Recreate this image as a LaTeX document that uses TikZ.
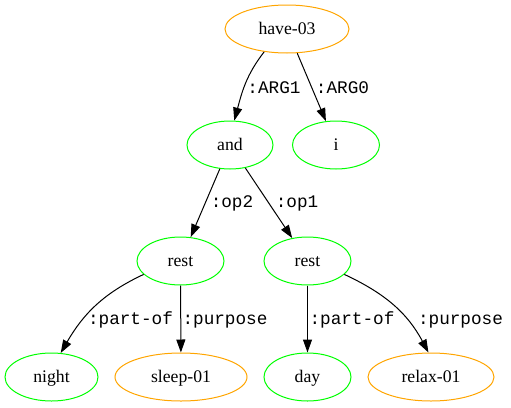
\documentclass[tikz,border=0pt]{standalone}
\usepackage{fontspec}
\setmainfont{Liberation Serif}
\newfontfamily\edgefont{Liberation Mono}
\usetikzlibrary{arrows.meta,shapes.geometric}
\definecolor{gvorange}{HTML}{FFA500}
\definecolor{gvgreen}{HTML}{00FF00}
\tikzset{
  amrnode/.style={ellipse, draw, line width=1pt, inner sep=0pt, minimum height=48pt,
    text height=12pt, text depth=2pt, font=\fontsize{17.7}{20}\selectfont},
  concept/.style={amrnode, draw=gvorange},
  entity/.style={amrnode, draw=gvgreen},
  rel/.style={line width=1pt, -{Triangle[length=13pt,width=9pt]}},
  lbl/.style={anchor=base, inner sep=0pt, font=\edgefont\fontsize{17.7}{20}\selectfont}
}
\begin{document}
\begin{tikzpicture}[x=1pt,y=1pt]
\useasboundingbox (0,0) rectangle (511,-407);
\node[concept, minimum width=124pt] (have) at (287,-29) {have-03};
\node[entity, minimum width=86pt] (and) at (230,-145) {and};
\node[entity, minimum width=87pt] (i) at (336,-145) {i};
\node[entity, minimum width=87pt] (restL) at (180.5,-261) {rest};
\node[entity, minimum width=87pt] (restR) at (307.5,-261) {rest};
\node[entity, minimum width=93pt] (night) at (51.5,-377) {night};
\node[concept, minimum width=132pt] (sleep) at (181,-377) {sleep-01};
\node[entity, minimum width=87pt] (day) at (307.5,-377) {day};
\node[concept, minimum width=126pt] (relax) at (431,-377) {relax-01};

\draw[rel] (have.225) to[out=232, in=75] (and.80);
\draw[rel] (have) -- (i);
\draw[rel] (and) -- (restL);
\draw[rel] (and) -- (restR);
\draw[rel] (restL.200) to[out=205, in=60] (night.69);
\draw[rel] (restL) -- (sleep);
\draw[rel] (restR) -- (day);
\draw[rel] (restR.340) to[out=-25, in=118] (relax.96);

\node[lbl] (l1) at (274,-93) {:ARG1};
\node[lbl] (l2) at (342.5,-93) {:ARG0};
\node[lbl] (l3) at (232,-207) {:op2};
\node[lbl] (l4) at (297,-207) {:op1};
\node[lbl] (l5) at (130.5,-324) {:part-of};
\node[lbl] (l6) at (225,-324) {:purpose};
\node[lbl] (l7) at (352,-324) {:part-of};
\node[lbl] (l8) at (460.5,-324) {:purpose};
\end{tikzpicture}
\end{document}
